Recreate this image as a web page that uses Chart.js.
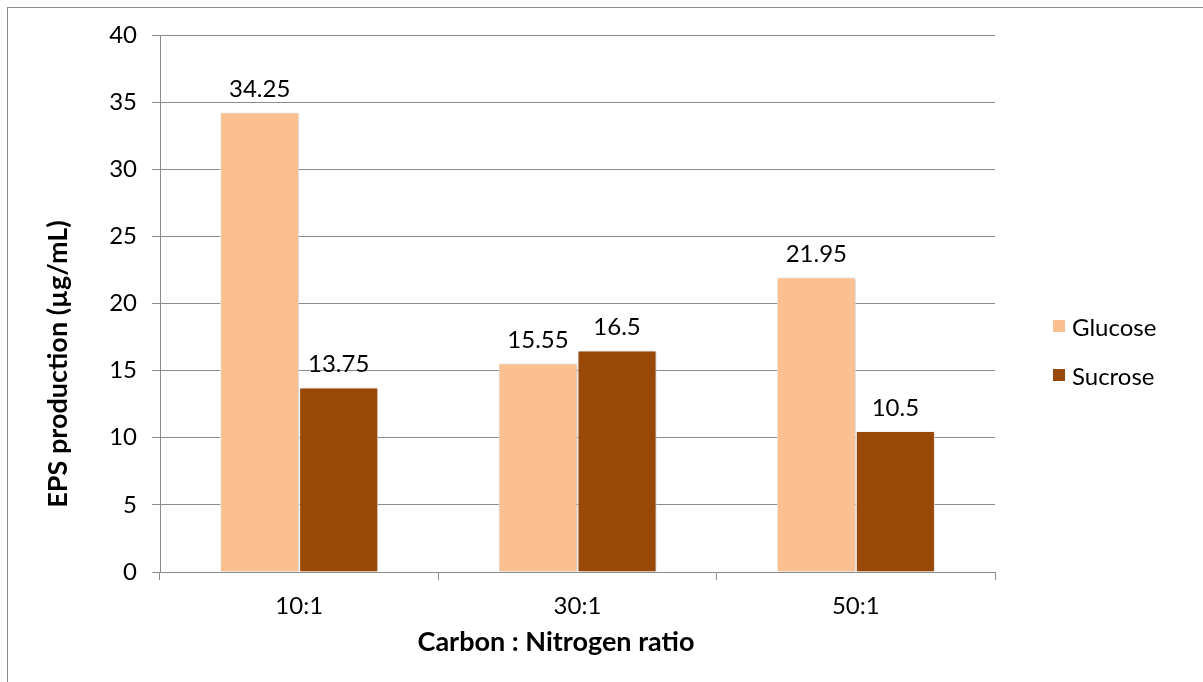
<!DOCTYPE html>
<html>
<head>
<meta charset="utf-8">
<script src="https://cdn.jsdelivr.net/npm/chart.js@4/dist/chart.umd.min.js"></script>
<style>
    html, body { margin: 0; padding: 0; background: #fff; overflow: hidden; }
    #frame { position: absolute; left: 7px; top: 7px; width: 1300px; height: 800px; border: 1px solid #8c8c8c; }
    #wrap { position: absolute; left: 0; top: 0; width: 1203px; height: 682px; }
</style>
</head>
<body>
<div id="frame"></div>
<div id="wrap"><canvas id="epsChart" width="1203" height="682"></canvas></div>
<script>
const categories = ['10:1', '30:1', '50:1'];
const glucose = [34.25, 15.55, 21.95];
const sucrose = [13.75, 16.5, 10.5];
const yTicks = [0, 5, 10, 15, 20, 25, 30, 35, 40];
const xTitle = 'Carbon : Nitrogen ratio';
const yTitle = 'EPS production (µg/mL)';

const FONT = 'Lato, "Open Sans", sans-serif';
const GRID = '#8c8c8c';

// value labels above each bar
const barLabels = {
    id: 'barLabels',
    afterDatasetsDraw(chart) {
        const ctx = chart.ctx;
        ctx.save();
        ctx.font = '24px ' + FONT;
        ctx.fillStyle = '#000';
        ctx.textAlign = 'center';
        ctx.textBaseline = 'alphabetic';
        chart.data.datasets.forEach(function(ds, i) {
            chart.getDatasetMeta(i).data.forEach(function(bar, j) {
                ctx.fillText(String(ds.data[j]), bar.x, bar.y - 15);
            });
        });
        ctx.restore();
    }
};

// legend on the right, drawn by hand
const sideLegend = {
    id: 'sideLegend',
    afterDraw(chart) {
        const ctx = chart.ctx;
        ctx.save();
        ctx.font = '24px ' + FONT;
        ctx.textBaseline = 'alphabetic';
        ctx.textAlign = 'left';
        chart.data.datasets.forEach(function(ds, i) {
            const y = 336 + i * 49;
            ctx.fillStyle = ds.backgroundColor;
            ctx.fillRect(1053, y - 16, 12, 12);
            ctx.fillStyle = '#000';
            ctx.fillText(ds.label, 1072, y);
        });
        ctx.restore();
    }
};

// axis titles (Excel puts them a bit off the plot centre)
const axisTitles = {
    id: 'axisTitles',
    afterDraw(chart) {
        const ctx = chart.ctx;
        ctx.save();
        ctx.font = 'bold 27px ' + FONT;
        ctx.fillStyle = '#000';
        ctx.textAlign = 'center';
        ctx.textBaseline = 'alphabetic';
        ctx.fillText(xTitle, 556, 651);
        ctx.translate(67, 364);
        ctx.rotate(-Math.PI / 2);
        ctx.fillText(yTitle, 0, 0);
        ctx.restore();
    }
};

// soft shadow under the bars
const barShadow = {
    id: 'barShadow',
    beforeDatasetsDraw(chart) {
        const ctx = chart.ctx;
        ctx.save();
        ctx.shadowColor = 'rgba(0,0,0,0.22)';
        ctx.shadowBlur = 4;
        ctx.shadowOffsetX = 1;
        ctx.shadowOffsetY = 1;
    },
    afterDatasetsDraw(chart) {
        chart.ctx.restore();
    }
};

new Chart(document.getElementById('epsChart').getContext('2d'), {
    type: 'bar',
    data: {
        labels: categories,
        datasets: [
            {
                label: 'Glucose',
                data: glucose,
                backgroundColor: '#FAC090',
                borderColor: '#ffffff',
                borderWidth: 1,
                categoryPercentage: 0.568,
                barPercentage: 1
            },
            {
                label: 'Sucrose',
                data: sucrose,
                backgroundColor: '#984807',
                borderColor: '#ffffff',
                borderWidth: 1,
                categoryPercentage: 0.568,
                barPercentage: 1
            }
        ]
    },
    options: {
        responsive: false,
        animation: false,
        layout: {
            padding: { left: 0, right: 208, top: 35, bottom: 0 }
        },
        plugins: {
            legend: { display: false },
            tooltip: { enabled: false }
        },
        scales: {
            x: {
                grid: {
                    offset: true,
                    drawOnChartArea: false,
                    drawTicks: true,
                    tickLength: 8,
                    color: GRID
                },
                border: { color: GRID, width: 1 },
                ticks: {
                    color: '#000',
                    padding: 12,
                    font: { family: FONT, size: 24 }
                },
                afterFit(scale) { scale.height = 110; }
            },
            y: {
                min: 0,
                max: 40,
                afterBuildTicks(scale) {
                    scale.ticks = yTicks.map(function(v) { return { value: v }; });
                },
                grid: {
                    color: GRID,
                    drawTicks: true,
                    tickLength: 8
                },
                border: { color: GRID, width: 1 },
                ticks: {
                    color: '#000',
                    padding: 15,
                    font: { family: FONT, size: 24 }
                },
                afterFit(scale) { scale.width = 160; }
            }
        }
    },
    plugins: [barShadow, barLabels, sideLegend, axisTitles]
});
</script>
</body>
</html>
